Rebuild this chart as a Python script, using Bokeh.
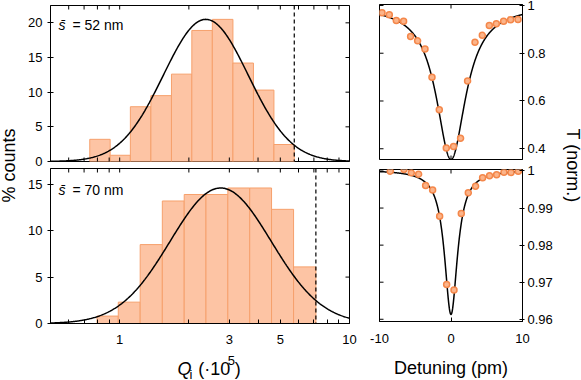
import numpy as np
from bokeh.plotting import figure
from bokeh.layouts import row, column
from bokeh.models import Range1d, FixedTicker, Span, Label, NumeralTickFormatter
from bokeh.embed import file_html
from bokeh.resources import INLINE

# ---------------- data ----------------
q_range = [0.5, 10]
q_major = [1, 3, 5, 10]
q_minor = [0.6, 0.7, 0.8, 0.9, 2, 4, 6, 7, 8, 9]

# s = 52 nm histogram (bin edges in units of 1e5, % counts)
edges_52 = [0.741, 0.909, 1.113, 1.367, 1.68, 2.06, 2.53, 3.11, 3.82, 4.69, 5.75]
counts_52 = [3.2, 0.9, 7.9, 9.5, 12.6, 18.9, 20.5, 14.2, 10.3, 2.45]
fit_52 = [20.5, 2.37, 0.185]        # amplitude, centre Q, sigma (decades)
cutoff_52 = 5.75
yticks_52 = [0, 5, 10, 15, 20]

# s = 70 nm histogram
edges_70 = [0.797, 0.986, 1.228, 1.533, 1.909, 2.374, 2.955, 3.68, 4.58, 5.71, 7.14]
counts_70 = [0.8, 2.3, 8.5, 13.2, 13.9, 13.9, 14.6, 14.6, 12.3, 6.1]
fit_70 = [14.6, 2.75, 0.22]
cutoff_70 = 7.14
yticks_70 = [0, 5, 10, 15]

# transmission spectra
det_top = [-9.65, -8.63, -7.65, -6.63, -5.65, -4.67, -3.64, -2.66, -1.64, -0.66,
           0.36, 1.34, 2.32, 3.36, 4.38, 5.36, 6.34, 7.36, 8.34, 9.37]
T_top = [0.969, 0.961, 0.937, 0.934, 0.870, 0.852, 0.818, 0.699, 0.563, 0.403,
         0.409, 0.444, 0.684, 0.846, 0.875, 0.916, 0.923, 0.934, 0.940, 0.941]
lor_top = [1.0, 0.645, 2.5]          # baseline, depth, HWHM (pm)
yticks_top = [0.4, 0.6, 0.8, 1]

det_bot = [-8.49, -6.57, -5.55, -4.53, -3.55, -2.57, -1.59, -0.61, 0.42, 1.44,
           2.42, 3.44, 4.42, 5.40, 6.38, 7.41, 8.39, 9.41]
T_bot = [0.99995, 1.0004, 0.9995, 0.99915, 0.99606, 0.99490, 0.98782, 0.96936, 0.96787,
         0.98851, 0.99410, 0.99588, 0.99819, 0.99872, 0.99899, 0.99968, 0.9996, 0.99995]
lor_bot = [1.0003, 0.039, 1.1]
yticks_bot = [0.96, 0.97, 0.98, 0.99, 1]
det_ticks = [-10, 0, 10]

# ---------------- style ----------------
FONT = "Liberation Sans"
BAR_FILL = "#FDC4A4"
BAR_LINE = "#F6A06C"
PT_FILL = "#FBB48A"
PT_LINE = "#F4874A"
TICK_FS = "13px"
LAB_FS = "18px"
TICK_LEN = 8   # marker length; half of it (4 px) shows inside the frame


def style_axis(ax, ticker, tick_in=4, tick_out=0, fmt=None, standoff=5):
    ax.ticker = ticker
    ax.axis_line_color = "black"
    ax.major_tick_line_color = "black"
    ax.minor_tick_line_color = "black"
    ax.major_tick_in = tick_in
    ax.major_tick_out = tick_out
    ax.minor_tick_in = tick_in
    ax.minor_tick_out = tick_out
    if fmt is not None:
        ax.formatter = fmt
    ax.major_label_text_font = FONT
    ax.major_label_text_font_size = TICK_FS
    ax.major_label_text_color = "black"
    ax.major_label_standoff = standoff


def edge_ticks(p, xs=None, y_at=None, ys=None, x_at=None):
    """Inward tick marks on an edge without labels (clipped to the frame)."""
    if xs is not None:
        p.scatter(xs, [y_at] * len(xs), marker="dash", angle=np.pi / 2, size=TICK_LEN,
                  line_color="black", line_width=1)
    if ys is not None:
        p.scatter([x_at] * len(ys), ys, marker="dash", size=TICK_LEN,
                  line_color="black", line_width=1)


def base_fig(**kw):
    p = figure(output_backend="svg", toolbar_location=None, **kw)
    p.grid.visible = False
    p.outline_line_color = "black"
    p.outline_line_width = 1
    p.background_fill_color = "white"
    p.border_fill_color = "white"
    return p


def left_panel(edges, counts, fit, cutoff, y_end, yticks, height, top_b, bot_b,
               show_x, ann_text, ann_y):
    p = base_fig(width=344, height=height, x_axis_type="log",
                 x_axis_location="below" if show_x else None,
                 x_range=Range1d(q_range[0], q_range[1]), y_range=Range1d(0, y_end),
                 min_border_left=30, min_border_right=15,
                 min_border_top=top_b, min_border_bottom=bot_b)
    p.quad(left=edges[:-1], right=edges[1:], bottom=0, top=counts,
           fill_color=BAR_FILL, line_color=BAR_LINE, line_width=1)
    xs = np.logspace(np.log10(q_range[0]), np.log10(q_range[1]), 400)
    amp, cen, sig = fit
    ys = amp * np.exp(-0.5 * ((np.log10(xs) - np.log10(cen)) / sig) ** 2)
    p.line(xs, ys, line_color="black", line_width=1.5)
    p.add_layout(Span(location=cutoff, dimension="height", line_color="black",
                      line_dash="4 3", line_width=1.2))
    all_q = q_major + q_minor
    if show_x:
        style_axis(p.xaxis[0], FixedTicker(ticks=q_major, minor_ticks=q_minor),
                   fmt=NumeralTickFormatter(format="0"), standoff=11)
    else:
        edge_ticks(p, xs=all_q, y_at=0)
    edge_ticks(p, xs=all_q, y_at=y_end)
    edge_ticks(p, ys=yticks, x_at=q_range[1])
    style_axis(p.yaxis[0], FixedTicker(ticks=yticks), tick_in=3, tick_out=3, standoff=5)
    p.add_layout(Label(x=q_range[0], y=ann_y, x_offset=8, text="s\u0304",
                       text_font=FONT, text_font_style="italic", text_font_size="14px",
                       text_baseline="middle", text_color="black"))
    p.add_layout(Label(x=q_range[0], y=ann_y, x_offset=22, text=ann_text,
                       text_font=FONT, text_font_size="14px",
                       text_baseline="middle", text_color="black"))
    return p


def right_panel(det, T, fit, yr, yticks, height, top_b, bot_b, show_x):
    p = base_fig(width=198, height=height, x_range=Range1d(-10, 10),
                 y_range=Range1d(yr[0], yr[1]), y_axis_location="right",
                 x_axis_location="below" if show_x else None,
                 min_border_left=15, min_border_right=40,
                 min_border_top=top_b, min_border_bottom=bot_b)
    xs = np.linspace(-10, 10, 801)
    b, d, hw = fit
    ys = b - d / (1 + (xs / hw) ** 2)
    p.line(xs, ys, line_color="black", line_width=1.5)
    p.scatter(det, T, size=6, fill_color=PT_FILL, line_color=PT_LINE, line_width=1.5)
    if show_x:
        style_axis(p.xaxis[0], FixedTicker(ticks=det_ticks, minor_ticks=[]),
                   fmt=NumeralTickFormatter(format="0"), standoff=12)
    else:
        edge_ticks(p, xs=det_ticks, y_at=yr[0])
    edge_ticks(p, xs=det_ticks, y_at=yr[1])
    edge_ticks(p, ys=yticks, x_at=-10)
    style_axis(p.yaxis[0], FixedTicker(ticks=yticks, minor_ticks=[]),
               tick_in=3, tick_out=2, fmt=NumeralTickFormatter(format="0.[00]"),
               standoff=3)
    return p


def text_fig(width, height, labels):
    p = figure(width=width, height=height, x_range=Range1d(0, width),
               y_range=Range1d(0, height), output_backend="svg", toolbar_location=None,
               min_border=0, x_axis_location=None, y_axis_location=None)
    p.grid.visible = False
    p.outline_line_color = None
    for lab in labels:
        p.add_layout(lab)
    return p


tl = left_panel(edges_52, counts_52, fit_52, cutoff_52, 22.5, yticks_52, 166, 5, 5,
                False, "= 52 nm", 19.7)
bl = left_panel(edges_70, counts_70, fit_70, cutoff_70, 16.7, yticks_70, 185, 2, 28,
                True, "= 70 nm", 14.4)

# composite x-axis title  Q_i (·10^5)
q_parts = []
for txt, x, y, fs, style in [("Q", 146, 11.3, LAB_FS, "italic"),
                             ("i", 160, 6, "13px", "normal"),
                             ("(\u00b710", 170, 11.3, LAB_FS, "normal"),
                             ("5", 204, 20, "13px", "normal"),
                             (")", 212, 11.3, LAB_FS, "normal")]:
    q_parts.append(Label(x=x, y=y, text=txt, text_font=FONT, text_font_size=fs,
                         text_font_style=style, text_align="left",
                         text_baseline="middle", text_color="black"))
qlab = text_fig(344, 29, q_parts)

tr = right_panel(det_top, T_top, lor_top, [0.355, 1.004], yticks_top, 164, 4, 5, False)
br = right_panel(det_bot, T_bot, lor_bot, [0.9594, 1.0004], yticks_bot, 216, 5, 57, True)
bx = br.below[0]
bx.axis_label = "Detuning (pm)"
bx.axis_label_text_font = FONT
bx.axis_label_text_font_size = LAB_FS
bx.axis_label_text_font_style = "normal"
bx.axis_label_text_color = "black"
bx.axis_label_standoff = 12

lab_left = text_fig(20, 380, [Label(x=8.5, y=215, text="% counts", angle=np.pi / 2,
                                    text_align="center", text_baseline="middle",
                                    text_font=FONT, text_font_size=LAB_FS,
                                    text_color="black")])
lab_right = text_fig(19, 380, [Label(x=10, y=215, text="T (norm.)", angle=-np.pi / 2,
                                     text_align="center", text_baseline="middle",
                                     text_font=FONT, text_font_size=LAB_FS,
                                     text_color="black")])

layout = row(lab_left, column(tl, bl, qlab), column(tr, br), lab_right)

open("out.html", "w").write(file_html(layout, INLINE))
